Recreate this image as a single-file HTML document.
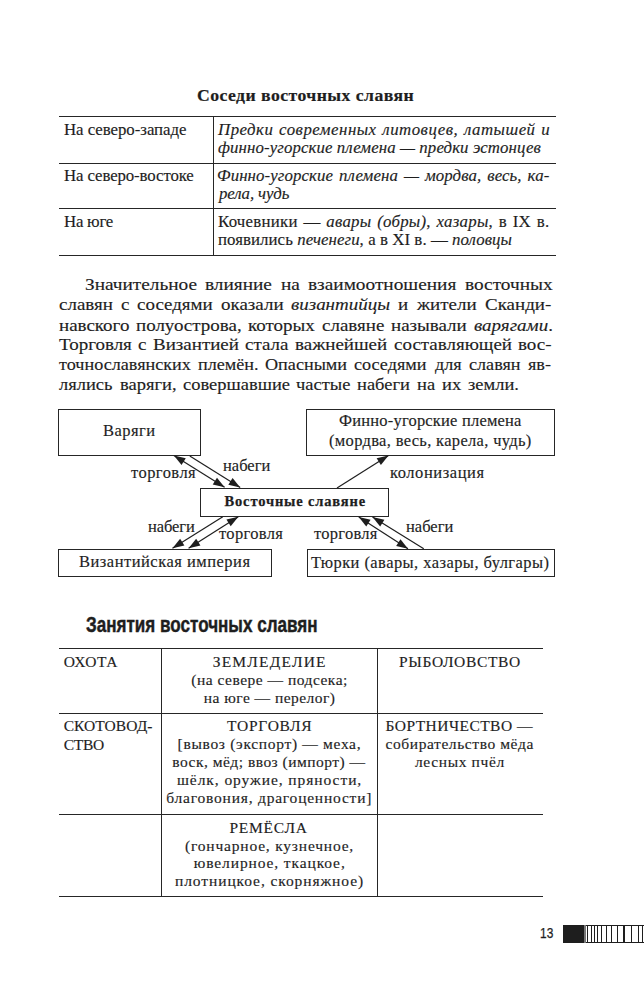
<!DOCTYPE html>
<html><head><meta charset="utf-8"><style>
html,body{margin:0;padding:0;background:#fff;}
body{width:644px;height:1001px;position:relative;overflow:hidden;}
.t{position:absolute;white-space:nowrap;line-height:1;color:#1e1e1e;transform-origin:0 0;-webkit-text-stroke:0.15px #1e1e1e;}
.r16{font-family:"Liberation Serif",serif;font-size:16px;}
.r165,.q165{font-family:"Liberation Serif",serif;font-size:16.5px;}
.b17{font-family:"Liberation Serif",serif;font-size:17px;font-weight:bold;-webkit-text-stroke:0.2px #1e1e1e;}
.b145{font-family:"Liberation Serif",serif;font-size:14.5px;font-weight:bold;-webkit-text-stroke:0.25px #1e1e1e;}
.r155{font-family:"Liberation Serif",serif;font-size:15.5px;}
.h20{font-family:"Liberation Sans",sans-serif;font-size:22px;font-weight:bold;-webkit-text-stroke:0.45px #1e1e1e;}
.p{font-family:"Liberation Sans",sans-serif;font-size:15px;-webkit-text-stroke:0.25px #1e1e1e;}
.hr{position:absolute;height:1px;background:#262626;}
.vr{position:absolute;width:1px;background:#262626;}
.box{position:absolute;border:1px solid #262626;box-sizing:border-box;}
</style></head><body>
<div class="hr" style="left:59px;width:497px;top:116px;height:1px"></div>
<div class="hr" style="left:59px;width:497px;top:163px;height:1px"></div>
<div class="hr" style="left:59px;width:497px;top:208px;height:1px"></div>
<div class="hr" style="left:59px;width:497px;top:255px;height:1px"></div>
<div class="vr" style="left:213px;top:116px;height:140px;width:1px"></div>
<div class="hr" style="left:59px;width:484px;top:648px;height:1px"></div>
<div class="hr" style="left:59px;width:484px;top:713px;height:1px"></div>
<div class="hr" style="left:59px;width:484px;top:814px;height:1px"></div>
<div class="hr" style="left:59px;width:484px;top:896px;height:1px"></div>
<div class="vr" style="left:161px;top:648px;height:249px;width:1px"></div>
<div class="vr" style="left:377px;top:648px;height:249px;width:1px"></div>
<div class="box" style="left:58px;top:409px;width:143px;height:47px"></div>
<div class="box" style="left:306px;top:409px;width:249px;height:47px"></div>
<div class="box" style="left:200px;top:488px;width:189px;height:29px"></div>
<div class="box" style="left:58px;top:549px;width:214px;height:28px"></div>
<div class="box" style="left:307px;top:549px;width:248px;height:28px"></div>
<svg style="position:absolute;left:0;top:0" width="644" height="1001" viewBox="0 0 644 1001"><line x1="173.9" y1="455.6" x2="224.6" y2="487.3" stroke="#1e1e1e" stroke-width="1.2"/><polygon points="224.60,487.30 212.73,484.59 216.97,477.81" fill="#1e1e1e"/><polygon points="173.90,455.60 185.77,458.31 181.53,465.09" fill="#1e1e1e"/><line x1="189.8" y1="456" x2="240.2" y2="487.5" stroke="#1e1e1e" stroke-width="1.2"/><polygon points="240.20,487.50 228.33,484.80 232.57,478.01" fill="#1e1e1e"/><line x1="337" y1="488" x2="388.5" y2="455.6" stroke="#1e1e1e" stroke-width="1.2"/><polygon points="388.50,455.60 380.90,465.11 376.64,458.34" fill="#1e1e1e"/><line x1="222.8" y1="516.8" x2="172.5" y2="548.3" stroke="#1e1e1e" stroke-width="1.2"/><polygon points="172.50,548.30 180.12,538.81 184.37,545.59" fill="#1e1e1e"/><line x1="238.3" y1="516.8" x2="188.6" y2="548.3" stroke="#1e1e1e" stroke-width="1.2"/><polygon points="188.60,548.30 196.17,538.77 200.45,545.52" fill="#1e1e1e"/><polygon points="238.30,516.80 230.73,526.33 226.45,519.58" fill="#1e1e1e"/><line x1="358.75" y1="517" x2="408" y2="548.75" stroke="#1e1e1e" stroke-width="1.2"/><polygon points="408.00,548.75 396.17,545.88 400.50,539.16" fill="#1e1e1e"/><polygon points="358.75,517.00 370.58,519.87 366.25,526.59" fill="#1e1e1e"/><line x1="423.75" y1="548.75" x2="372.5" y2="517" stroke="#1e1e1e" stroke-width="1.2"/><polygon points="372.50,517.00 384.38,519.66 380.17,526.46" fill="#1e1e1e"/><rect x="563" y="925" width="82" height="1" fill="#1e1e1e"/><rect x="563" y="942" width="82" height="1" fill="#1e1e1e"/><rect x="563" y="925" width="21" height="18" fill="#1e1e1e"/><rect x="584" y="925" width="2" height="18" fill="#777"/><rect x="587" y="925" width="1" height="18" fill="#1e1e1e"/><rect x="591" y="925" width="1" height="18" fill="#1e1e1e"/><rect x="594" y="925" width="1" height="18" fill="#1e1e1e"/><rect x="597" y="925" width="1" height="18" fill="#1e1e1e"/><rect x="601" y="925" width="1" height="18" fill="#1e1e1e"/><rect x="606" y="925" width="1" height="18" fill="#1e1e1e"/><rect x="611" y="925" width="1" height="18" fill="#1e1e1e"/><rect x="617" y="925" width="1" height="18" fill="#1e1e1e"/><rect x="631" y="925" width="1" height="18" fill="#1e1e1e"/><rect x="638" y="925" width="1" height="18" fill="#1e1e1e"/><rect x="642" y="925" width="1" height="18" fill="#1e1e1e"/><rect x="623" y="925" width="2" height="18" fill="#1e1e1e"/></svg>
<div class="t b17" style="left:197.3px;top:87.0px;letter-spacing:0.441px;transform:scaleX(1.04);">Соседи восточных славян</div>
<div class="t r165" style="left:63.75px;top:122.0px;letter-spacing:-0.044px;transform:scaleX(1.02);">На северо-западе</div>
<div class="t r165" style="left:63.75px;top:168.0px;letter-spacing:-0.112px;transform:scaleX(1.02);">На северо-востоке</div>
<div class="t r165" style="left:63.75px;top:214.0px;letter-spacing:-0.241px;transform:scaleX(1.02);">На юге</div>
<div class="t r165" style="left:218.0px;top:122.0px;letter-spacing:0.486px;word-spacing:1.002px;transform:scaleX(1.02);"><i>Предки современных литовцев, латышей и</i></div>
<div class="t r165" style="left:218.0px;top:140.0px;letter-spacing:0.094px;transform:scaleX(1.02);"><i>финно-угорские племена — предки эстонцев</i></div>
<div class="t r165" style="left:217.0px;top:168.0px;letter-spacing:0.097px;word-spacing:1.608px;transform:scaleX(1.02);"><i>Финно-угорские племена — мордва, весь, ка-</i></div>
<div class="t r165" style="left:219.0px;top:186.0px;letter-spacing:-0.127px;transform:scaleX(1.02);"><i>рела, чудь</i></div>
<div class="t r165" style="left:218.0px;top:214.0px;letter-spacing:0.243px;word-spacing:1.296px;transform:scaleX(1.02);">Кочевники — <i>авары (обры)</i>, <i>хазары</i>, в IX в.</div>
<div class="t r165" style="left:218.0px;top:232.0px;letter-spacing:0.059px;transform:scaleX(1.02);">появились <i>печенеги</i>, а в XI в. — <i>половцы</i></div>
<div class="t r16" style="left:102.75px;top:423.0px;letter-spacing:0.449px;transform:scaleX(1.03);">Варяги</div>
<div class="t r16" style="left:338.75px;top:413.0px;letter-spacing:0.199px;transform:scaleX(1.03);">Финно-угорские племена</div>
<div class="t r16" style="left:328.5px;top:433.0px;letter-spacing:0.32px;transform:scaleX(1.03);">(мордва, весь, карела, чудь)</div>
<div class="t r16" style="left:130.5px;top:465.0px;letter-spacing:0.448px;transform:scaleX(1.03);">торговля</div>
<div class="t r16" style="left:222.5px;top:458.0px;letter-spacing:0.023px;transform:scaleX(1.03);">набеги</div>
<div class="t r16" style="left:390.0px;top:465.0px;letter-spacing:0.55px;transform:scaleX(1.03);">колонизация</div>
<div class="t b145" style="left:224.5px;top:494.0px;letter-spacing:0.844px;">Восточные славяне</div>
<div class="t r16" style="left:148.0px;top:519.0px;letter-spacing:-0.074px;transform:scaleX(1.03);">набеги</div>
<div class="t r16" style="left:218.75px;top:526.0px;letter-spacing:0.344px;transform:scaleX(1.03);">торговля</div>
<div class="t r16" style="left:313.75px;top:526.0px;letter-spacing:0.275px;transform:scaleX(1.03);">торговля</div>
<div class="t r16" style="left:405.5px;top:519.0px;letter-spacing:0.023px;transform:scaleX(1.03);">набеги</div>
<div class="t r16" style="left:78.5px;top:554.0px;letter-spacing:0.489px;transform:scaleX(1.03);">Византийская империя</div>
<div class="t r16" style="left:311.25px;top:555.0px;letter-spacing:0.434px;transform:scaleX(1.03);">Тюрки (авары, хазары, булгары)</div>
<div class="t h20" style="left:85.75px;top:614.0px;transform:scaleX(0.7761);">Занятия восточных славян</div>
<div class="t r155" style="left:63.75px;top:654.0px;letter-spacing:0.562px;">ОХОТА</div>
<div class="t r155" style="left:212.75px;top:654.0px;letter-spacing:1.194px;">ЗЕМЛЕДЕЛИЕ</div>
<div class="t r155" style="left:191.25px;top:672.0px;letter-spacing:0.5px;">(на севере — подсека;</div>
<div class="t r155" style="left:203.75px;top:690.0px;letter-spacing:0.469px;">на юге — перелог)</div>
<div class="t r155" style="left:399.0px;top:654.0px;letter-spacing:0.65px;">РЫБОЛОВСТВО</div>
<div class="t r155" style="left:63.75px;top:718.0px;letter-spacing:0.031px;">СКОТОВОД-</div>
<div class="t r155" style="left:63.75px;top:737.0px;letter-spacing:-0.333px;">СТВО</div>
<div class="t r155" style="left:227.0px;top:718.0px;letter-spacing:0.75px;">ТОРГОВЛЯ</div>
<div class="t r155" style="left:177.6px;top:736.0px;letter-spacing:0.683px;">[вывоз (экспорт) — меха,</div>
<div class="t r155" style="left:172.3px;top:754.0px;letter-spacing:0.484px;">воск, мёд; ввоз (импорт) —</div>
<div class="t r155" style="left:177.0px;top:772.0px;letter-spacing:0.932px;">шёлк, оружие, пряности,</div>
<div class="t r155" style="left:166.3px;top:790.0px;letter-spacing:0.784px;">благовония, драгоценности]</div>
<div class="t r155" style="left:385.5px;top:718.0px;letter-spacing:0.462px;">БОРТНИЧЕСТВО —</div>
<div class="t r155" style="left:385.5px;top:736.0px;letter-spacing:0.583px;">собирательство мёда</div>
<div class="t r155" style="left:415.0px;top:754.0px;letter-spacing:0.625px;">лесных пчёл</div>
<div class="t r155" style="left:229.5px;top:820.0px;letter-spacing:0.75px;">РЕМЁСЛА</div>
<div class="t r155" style="left:185.0px;top:838.0px;letter-spacing:0.81px;">(гончарное, кузнечное,</div>
<div class="t r155" style="left:193.75px;top:855.0px;letter-spacing:0.889px;">ювелирное, ткацкое,</div>
<div class="t r155" style="left:175.0px;top:873.0px;letter-spacing:0.909px;">плотницкое, скорняжное)</div>
<div class="t p" style="left:539.8px;top:925.0px;transform:scaleX(0.7952);">13</div>
<div class="t q165" style="left:84.58px;top:277.0px;transform:scaleX(1.17);">Значительное</div>
<div class="t q165" style="left:205.49px;top:277.0px;transform:scaleX(1.17);">влияние</div>
<div class="t q165" style="left:280.76px;top:277.0px;transform:scaleX(1.17);">на</div>
<div class="t q165" style="left:308.07px;top:277.0px;transform:scaleX(1.17);">взаимоотношения</div>
<div class="t q165" style="left:465.25px;top:277.0px;transform:scaleX(1.17);">восточных</div>
<div class="t q165" style="left:58.75px;top:297.0px;transform:scaleX(1.15);">славян</div>
<div class="t q165" style="left:120.89px;top:297.0px;transform:scaleX(1.15);">с</div>
<div class="t q165" style="left:137.04px;top:297.0px;transform:scaleX(1.15);">соседями</div>
<div class="t q165" style="left:221.03px;top:297.0px;transform:scaleX(1.15);">оказали</div>
<div class="t q165" style="left:291.22px;top:297.0px;transform:scaleX(1.15);"><i>византийцы</i></div>
<div class="t q165" style="left:398.21px;top:297.0px;transform:scaleX(1.15);">и</div>
<div class="t q165" style="left:416.66px;top:297.0px;transform:scaleX(1.15);">жители</div>
<div class="t q165" style="left:484.55px;top:297.0px;transform:scaleX(1.15);">Сканди-</div>
<div class="t q165" style="left:58.75px;top:318.0px;transform:scaleX(1.15);">навского</div>
<div class="t q165" style="left:136.01px;top:318.0px;transform:scaleX(1.15);">полуострова,</div>
<div class="t q165" style="left:247.77px;top:318.0px;transform:scaleX(1.15);">которых</div>
<div class="t q165" style="left:321.58px;top:318.0px;transform:scaleX(1.15);">славяне</div>
<div class="t q165" style="left:390.79px;top:318.0px;transform:scaleX(1.15);">называли</div>
<div class="t q165" style="left:473.8px;top:318.0px;transform:scaleX(1.15);"><i>варягами</i>.</div>
<div class="t q165" style="left:58.75px;top:337.0px;transform:scaleX(1.15);">Торговля</div>
<div class="t q165" style="left:137.92px;top:337.0px;transform:scaleX(1.15);">с</div>
<div class="t q165" style="left:152.68px;top:337.0px;transform:scaleX(1.15);">Византией</div>
<div class="t q165" style="left:244.5px;top:337.0px;transform:scaleX(1.15);">стала</div>
<div class="t q165" style="left:294.92px;top:337.0px;transform:scaleX(1.15);">важнейшей</div>
<div class="t q165" style="left:393.63px;top:337.0px;transform:scaleX(1.15);">составляющей</div>
<div class="t q165" style="left:517.65px;top:337.0px;transform:scaleX(1.15);">вос-</div>
<div class="t q165" style="left:58.75px;top:357.0px;transform:scaleX(1.1);">точнославянских</div>
<div class="t q165" style="left:198.36px;top:357.0px;transform:scaleX(1.1);">племён.</div>
<div class="t q165" style="left:265.37px;top:357.0px;transform:scaleX(1.1);">Опасными</div>
<div class="t q165" style="left:354.38px;top:357.0px;transform:scaleX(1.1);">соседями</div>
<div class="t q165" style="left:434.58px;top:357.0px;transform:scaleX(1.1);">для</div>
<div class="t q165" style="left:468.59px;top:357.0px;transform:scaleX(1.1);">славян</div>
<div class="t q165" style="left:527.9px;top:357.0px;transform:scaleX(1.1);">яв-</div>
<div class="t q165" style="left:58.75px;top:377.0px;transform:scaleX(1.12);">лялись</div>
<div class="t q165" style="left:119.65px;top:377.0px;transform:scaleX(1.12);">варяги,</div>
<div class="t q165" style="left:182.78px;top:377.0px;transform:scaleX(1.12);">совершавшие</div>
<div class="t q165" style="left:296.32px;top:377.0px;transform:scaleX(1.12);">частые</div>
<div class="t q165" style="left:357.21px;top:377.0px;transform:scaleX(1.12);">набеги</div>
<div class="t q165" style="left:416.99px;top:377.0px;transform:scaleX(1.12);">на</div>
<div class="t q165" style="left:442.04px;top:377.0px;transform:scaleX(1.12);">их</div>
<div class="t q165" style="left:468.22px;top:377.0px;transform:scaleX(1.12);">земли.</div>
</body></html>
